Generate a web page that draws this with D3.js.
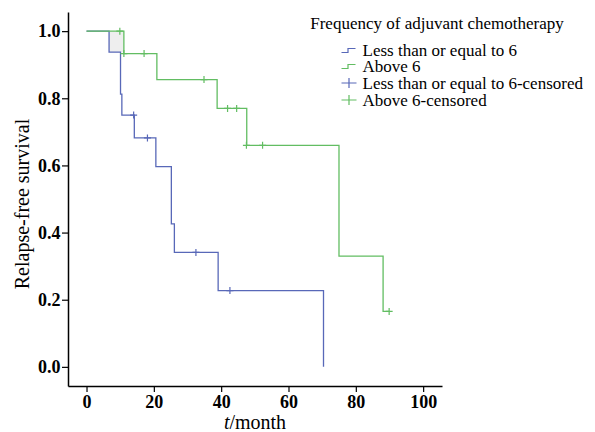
<!DOCTYPE html>
<html>
<head>
<meta charset="utf-8">
<script src="https://cdn.jsdelivr.net/npm/d3@7"></script>
<style>
  body { margin: 0; background: #fff; }
</style>
</head>
<body>
<div id="chart"></div>
<script>
// Step points: [time, survival after drop]
const lowTimes = [0, 6.7, 10.1, 10.5, 14.2, 20.6, 25.2, 26.1, 39.1, 70.4];
const lowSurv = [1.0, 0.9375, 0.8125, 0.75, 0.6818, 0.5966, 0.4261, 0.3409, 0.2273, 0.0];
const lowEnd = 70.4;
const lowCensT = [14.0, 18.1, 32.5, 42.6];
const lowCensS = [0.75, 0.6818, 0.3409, 0.2273];

const highTimes = [0, 11.1, 20.9, 38.8, 47.6, 75.0, 88.1];
const highSurv = [1.0, 0.9333, 0.8556, 0.7698, 0.6598, 0.3299, 0.165];
const highEnd = 89.9;
const highCensT = [9.9, 11.1, 17.1, 34.9, 41.9, 44.6, 47.5, 52.3, 89.9];
const highCensS = [1.0, 0.9333, 0.9333, 0.8556, 0.7698, 0.7698, 0.6598, 0.6598, 0.165];

const xTicks = [0, 20, 40, 60, 80, 100];
const yTicks = [0, 0.2, 0.4, 0.6, 0.8, 1.0];
const legendTitle = "Frequency of adjuvant chemotherapy";
const legendLabels = ["Less than or equal to 6", "Above 6",
  "Less than or equal to 6-censored", "Above 6-censored"];

const BLUE = "#5868b8";
const GREEN = "#62bd62";
const SERIF = "'Liberation Serif', 'Times New Roman', serif";

const W = 595, H = 432;
const margin = { left: 68, right: 153, top: 12, bottom: 46 };

const svg = d3.select("#chart").append("svg")
  .attr("width", W).attr("height", H)
  .style("font-family", SERIF);

const x = d3.scaleLinear().domain([-5.5, 105.6])
  .range([margin.left, W - margin.right]);
const y = d3.scaleLinear().domain([-0.057, 1.057])
  .range([H - margin.bottom, margin.top]);

function stepPoints(times, surv, end) {
  const pts = [];
  times.forEach((t, i) => {
    if (i > 0) pts.push([t, surv[i - 1]]);
    pts.push([t, surv[i]]);
  });
  const last = surv[surv.length - 1];
  if (end > times[times.length - 1]) pts.push([end, last]);
  return pts;
}

const line = d3.line().x(d => x(d[0])).y(d => y(d[1]));

// light shading where the curves first separate
svg.append("rect")
  .attr("x", x(lowTimes[1])).attr("y", y(1.0))
  .attr("width", x(highTimes[1]) - x(lowTimes[1]))
  .attr("height", y(lowSurv[1]) - y(1.0))
  .attr("fill", "#eeeeee");

svg.append("path")
  .datum(stepPoints(lowTimes, lowSurv, lowEnd))
  .attr("d", line).attr("fill", "none")
  .attr("stroke", BLUE).attr("stroke-width", 1.3);

svg.append("path")
  .datum(stepPoints(highTimes, highSurv, highEnd))
  .attr("d", line).attr("fill", "none")
  .attr("stroke", GREEN).attr("stroke-width", 1.3);

function censors(ts, ss, color) {
  svg.append("g").selectAll("path")
    .data(ts.map((t, i) => [t, ss[i]]))
    .join("path")
    .attr("d", d => `M${x(d[0]) - 3.5},${y(d[1])}h7M${x(d[0])},${y(d[1]) - 3.5}v7`)
    .attr("stroke", color).attr("stroke-width", 1.2);
}
censors(lowCensT, lowCensS, BLUE);
censors(highCensT, highCensS, GREEN);

// axes
const xAxis = svg.append("g")
  .attr("transform", `translate(0,${H - margin.bottom})`)
  .call(d3.axisBottom(x).tickValues(xTicks).tickSize(6).tickPadding(3).tickSizeOuter(0));
const yAxis = svg.append("g")
  .attr("transform", `translate(${margin.left},0)`)
  .call(d3.axisLeft(y).tickValues(yTicks).tickFormat(d3.format(".1f"))
    .tickSize(6).tickPadding(1.5).tickSizeOuter(0));

[xAxis, yAxis].forEach(g => {
  g.attr("font-family", null);
  g.select(".domain").attr("stroke", "#000").attr("stroke-width", 1.5);
  g.selectAll(".tick line").attr("stroke", "#000").attr("stroke-width", 1.2);
  g.selectAll(".tick text")
    .style("font-family", SERIF)
    .style("font-size", "18px").style("font-weight", "bold").attr("fill", "#000");
});

svg.append("text")
  .attr("transform", `translate(29,${(margin.top + H - margin.bottom) / 2 + 5}) rotate(-90)`)
  .attr("text-anchor", "middle")
  .style("font-family", SERIF)
  .style("font-size", "20px")
  .text("Relapse-free survival");

const xt = svg.append("text")
  .attr("x", (margin.left + W - margin.right) / 2).attr("y", 429)
  .attr("text-anchor", "middle")
  .style("font-family", SERIF)
  .style("font-size", "20px");
xt.append("tspan").style("font-style", "italic").text("t");
xt.append("tspan").text("/month");

// legend
const legend = svg.append("g");
legend.append("text")
  .attr("x", 437).attr("y", 29).attr("text-anchor", "middle")
  .style("font-family", SERIF)
  .style("font-size", "17px")
  .text(legendTitle);

const rowY = [50.5, 66.5, 83, 100];
const colors = [BLUE, GREEN, BLUE, GREEN];
legendLabels.forEach((lab, i) => {
  const cy = rowY[i];
  if (i < 2) {
    legend.append("path")
      .attr("d", `M341.5,${cy + 2}h6.5v-4h7.5`)
      .attr("fill", "none").attr("stroke", colors[i]).attr("stroke-width", 1.2);
  } else {
    legend.append("path")
      .attr("d", `M341.5,${cy}h15M349,${cy - 5}v10`)
      .attr("stroke", colors[i]).attr("stroke-width", 1.2);
  }
  legend.append("text")
    .attr("x", 362.5).attr("y", cy + 5.5)
    .style("font-family", SERIF)
    .style("font-size", "17px")
    .text(lab);
});
</script>
</body>
</html>
